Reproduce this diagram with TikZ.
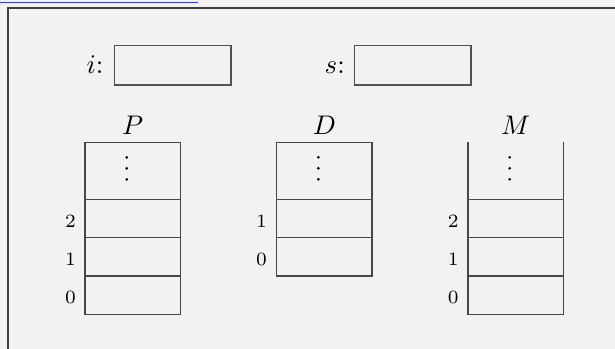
\documentclass[tikz,border=0pt]{standalone}
\definecolor{bgc}{RGB}{242,242,242}
\definecolor{linkblue}{RGB}{58,58,205}
\begin{document}
\begin{tikzpicture}[x=0.3714pt,y=-0.3714pt,
  line width=0.5pt,
  cell/.style={draw=black!72, minimum width=35.5pt, minimum height=14.22pt, inner sep=0pt, outer sep=0pt},
  topcell/.style={cell, minimum height=21.25pt},
  regbox/.style={draw=black!68, minimum width=43.35pt, minimum height=14.6pt, inner sep=0pt, outer sep=0pt},
  idx/.style={font=\scriptsize, anchor=base east, inner sep=0pt},
  title/.style={anchor=base, inner sep=0pt},
  reglabel/.style={anchor=base east, inner sep=0pt},
  dot/.style={fill=black, circle, inner sep=0pt, minimum size=1.1pt}]

% page background and frame
\fill[bgc] (0,0) rectangle (615,349);
\useasboundingbox (0,0) rectangle (615,349);
\draw[linkblue, line width=0.45pt] (0,2.5) -- (198,2.5);
\draw[black!75, line width=0.4pt] (8,349) -- (8,8) -- (615,8);

% registers
\node[regbox] (ibox) at (172.7,65.3) {};
\node[reglabel] (ilab) at (104,73.3) {$i$:};
\node[regbox] (sbox) at (412.7,65.3) {};
\node[reglabel] (slab) at (345.5,73.3) {$s$:};

% stack P
\node[title] (Ptitle) at (132.75,134.3) {$P$};
\node[topcell] (Ptop) at (132.75,170.9) {};
\node[cell] (P2) at (132.75,218.65) {};
\node[cell] (P1) at (132.75,256.95) {};
\node[cell] (P0) at (132.75,295.25) {};
\node[dot] (Pd1) at (126.75,157.3) {};
\node[dot] (Pd2) at (126.75,168.3) {};
\node[dot] (Pd3) at (126.75,179.3) {};
\node[idx] (Pi2) at (76.5,227.3) {2};
\node[idx] (Pi1) at (76.5,265.6) {1};
\node[idx] (Pi0) at (76.5,303.9) {0};

% stack D
\node[title] (Dtitle) at (324.35,134.3) {$D$};
\node[topcell] (Dtop) at (324.35,170.9) {};
\node[cell] (D1) at (324.35,218.65) {};
\node[cell] (D0) at (324.35,256.95) {};
\node[dot] (Dd1) at (318.35,157.3) {};
\node[dot] (Dd2) at (318.35,168.3) {};
\node[dot] (Dd3) at (318.35,179.3) {};
\node[idx] (Di1) at (267.6,227.3) {1};
\node[idx] (Di0) at (267.6,265.6) {0};

% stack M (open at the top)
\node[title] (Mtitle) at (515.7,134.3) {$M$};
\node[topcell, draw=none] (Mtop) at (515.7,170.9) {};
\draw[black!72] (Mtop.north west) -- (Mtop.south west);
\draw[black!72] (Mtop.north east) -- (Mtop.south east);
\node[cell] (M2) at (515.7,218.65) {};
\node[cell] (M1) at (515.7,256.95) {};
\node[cell] (M0) at (515.7,295.25) {};
\node[dot] (Md1) at (509.7,157.3) {};
\node[dot] (Md2) at (509.7,168.3) {};
\node[dot] (Md3) at (509.7,179.3) {};
\node[idx] (Mi2) at (459.3,227.3) {2};
\node[idx] (Mi1) at (459.3,265.6) {1};
\node[idx] (Mi0) at (459.3,303.9) {0};
\end{tikzpicture}
\end{document}
